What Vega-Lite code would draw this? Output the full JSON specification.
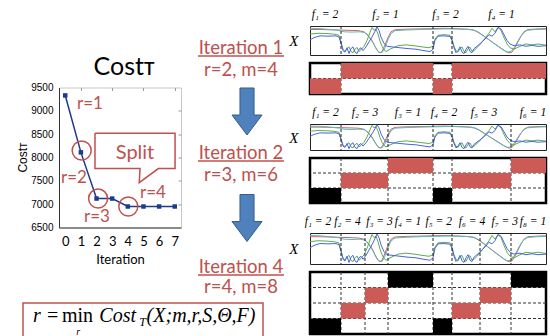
{
"$schema":"https://vega.github.io/schema/vega-lite/v6.json",
"background":"white",
"padding":{"left":17,"top":9,"right":0,"bottom":0},
"config":{"view":{"stroke":null},"axis":{"grid":false}},
"datasets":{
 "cost":[{"iteration":0,"cost":9330},{"iteration":1,"cost":8110},{"iteration":2,"cost":7120},{"iteration":3,"cost":7120},{"iteration":4,"cost":6950},{"iteration":5,"cost":6950},{"iteration":6,"cost":6950},{"iteration":7,"cost":6950}],
 "circles":[{"iteration":1.05,"cost":8150},{"iteration":2.1,"cost":7120},{"iteration":4.03,"cost":6950}],
 "rlabels":[{"iteration":1.58,"cost":9140,"label":"r=1"},{"iteration":0.56,"cost":7555,"label":"r=2"},{"iteration":2.03,"cost":6717,"label":"r=3"},{"iteration":5.61,"cost":7232,"label":"r=4"}],
 "callout":[{"k":1,"iteration":1.9,"cost":8519},{"k":2,"iteration":7.02,"cost":8519},{"k":3,"iteration":7.02,"cost":7762},{"k":4,"iteration":5.95,"cost":7762},{"k":5,"iteration":4.73,"cost":7461},{"k":6,"iteration":4.78,"cost":7762},{"k":7,"iteration":1.9,"cost":7762},{"k":8,"iteration":1.9,"cost":8519}],
 "split":[{"iteration":4.46,"cost":8090,"label":"Split"}],
 "midtext":[{"label":"Iteration 1","pos":0.1237},{"label":"r=2, m=4","pos":0.1993},{"label":"Iteration 2","pos":0.4845},{"label":"r=3, m=6","pos":0.5601},{"label":"Iteration 4","pos":0.8763},{"label":"r=4, m=8","pos":0.945}],
 "underlines":[{"pos":0.1512},{"pos":0.512},{"pos":0.9038}],
 "arrows":[{"ax":0.57,"pos":0.3419},{"ax":0.57,"pos":0.7079}],
 "fbox":[{"k":1,"bx":0,"by":0},{"k":2,"bx":0,"by":1},{"k":3,"bx":1,"by":1},{"k":4,"bx":1,"by":0}],
 "formula":[{"piece":"r =","px":0.042,"py":0.63,"role":"main"},{"piece":"min","px":0.1625,"py":0.63,"role":"upright"},{"piece":"Cost","px":0.318,"py":0.63,"role":"main"},{"piece":"(X;m,r,S,Θ,F)","px":0.515,"py":0.63,"role":"main"},{"piece":"T","px":0.484,"py":0.46,"role":"sub"},{"piece":"r","px":0.222,"py":0.19,"role":"subr"}],
 "segs":[
  {"it":1,"start":0,"end":31,"lt":15,"label":"f₁ = 2","theta":"θ₂","status":"changed"},
  {"it":1,"start":31,"end":123,"lt":75.5,"label":"f₂ = 1","theta":"θ₁","status":"changed"},
  {"it":1,"start":123,"end":142,"lt":135.5,"label":"f₃ = 2","theta":"θ₂","status":"changed"},
  {"it":1,"start":142,"end":236,"lt":191.5,"label":"f₄ = 1","theta":"θ₁","status":"changed"},
  {"it":2,"start":0,"end":31,"lt":15.5,"label":"f₁ = 2","theta":"θ₂","status":"kept"},
  {"it":2,"start":31,"end":78,"lt":55,"label":"f₂ = 3","theta":"θ₃","status":"changed"},
  {"it":2,"start":78,"end":123,"lt":98,"label":"f₃ = 1","theta":"θ₁","status":"changed"},
  {"it":2,"start":123,"end":142,"lt":134,"label":"f₄ = 2","theta":"θ₂","status":"kept"},
  {"it":2,"start":142,"end":201,"lt":174,"label":"f₅ = 3","theta":"θ₃","status":"changed"},
  {"it":2,"start":201,"end":236,"lt":223,"label":"f₆ = 1","theta":"θ₁","status":"changed"},
  {"it":4,"start":0,"end":31,"lt":8,"label":"f₁ = 2","theta":"θ₂","status":"kept"},
  {"it":4,"start":31,"end":55,"lt":37.5,"label":"f₂ = 4","theta":"θ₄","status":"changed"},
  {"it":4,"start":55,"end":78,"lt":69.5,"label":"f₃ = 3","theta":"θ₃","status":"changed"},
  {"it":4,"start":78,"end":123,"lt":98,"label":"f₄ = 1","theta":"θ₁","status":"kept"},
  {"it":4,"start":123,"end":142,"lt":128.7,"label":"f₅ = 2","theta":"θ₂","status":"kept"},
  {"it":4,"start":142,"end":170,"lt":162,"label":"f₆ = 4","theta":"θ₄","status":"changed"},
  {"it":4,"start":170,"end":201,"lt":194.7,"label":"f₇ = 3","theta":"θ₃","status":"changed"},
  {"it":4,"start":201,"end":236,"lt":223,"label":"f₈ = 1","theta":"θ₁","status":"kept"}
 ],
 "thetarows":[{"it":1,"theta":"θ₂"},{"it":2,"theta":"θ₃"},{"it":2,"theta":"θ₂"},{"it":4,"theta":"θ₃"},{"it":4,"theta":"θ₄"},{"it":4,"theta":"θ₂"}],
 "signal":[
  {"ch":"c1","t":0,"v":0.88},{"ch":"c1","t":10,"v":0.88},{"ch":"c1","t":20,"v":0.87},{"ch":"c1","t":30,"v":0.86},{"ch":"c1","t":40,"v":0.85},{"ch":"c1","t":48,"v":0.84},{"ch":"c1","t":54,"v":0.8},{"ch":"c1","t":58,"v":0.68},{"ch":"c1","t":62,"v":0.5},{"ch":"c1","t":65,"v":0.3},{"ch":"c1","t":68,"v":0.12},{"ch":"c1","t":70,"v":0.07},{"ch":"c1","t":72,"v":0.12},{"ch":"c1","t":75,"v":0.35},{"ch":"c1","t":78,"v":0.6},{"ch":"c1","t":81,"v":0.8},{"ch":"c1","t":85,"v":0.87},{"ch":"c1","t":95,"v":0.89},{"ch":"c1","t":110,"v":0.9},{"ch":"c1","t":123,"v":0.91},{"ch":"c1","t":135,"v":0.92},{"ch":"c1","t":142,"v":0.91},{"ch":"c1","t":150,"v":0.9},{"ch":"c1","t":160,"v":0.88},{"ch":"c1","t":165,"v":0.84},{"ch":"c1","t":170,"v":0.74},{"ch":"c1","t":175,"v":0.62},{"ch":"c1","t":180,"v":0.5},{"ch":"c1","t":185,"v":0.38},{"ch":"c1","t":190,"v":0.26},{"ch":"c1","t":195,"v":0.14},{"ch":"c1","t":199,"v":0.07},{"ch":"c1","t":202,"v":0.1},{"ch":"c1","t":205,"v":0.25},{"ch":"c1","t":208,"v":0.45},{"ch":"c1","t":211,"v":0.65},{"ch":"c1","t":214,"v":0.8},{"ch":"c1","t":218,"v":0.88},{"ch":"c1","t":228,"v":0.9},{"ch":"c1","t":236,"v":0.91},
  {"ch":"c2","t":0,"v":0.92},{"ch":"c2","t":10,"v":0.91},{"ch":"c2","t":20,"v":0.88},{"ch":"c2","t":30,"v":0.84},{"ch":"c2","t":34,"v":0.8},{"ch":"c2","t":42,"v":0.79},{"ch":"c2","t":50,"v":0.8},{"ch":"c2","t":55,"v":0.77},{"ch":"c2","t":59,"v":0.62},{"ch":"c2","t":63,"v":0.42},{"ch":"c2","t":66,"v":0.22},{"ch":"c2","t":69,"v":0.1},{"ch":"c2","t":72,"v":0.08},{"ch":"c2","t":75,"v":0.25},{"ch":"c2","t":78,"v":0.52},{"ch":"c2","t":81,"v":0.74},{"ch":"c2","t":85,"v":0.84},{"ch":"c2","t":95,"v":0.86},{"ch":"c2","t":110,"v":0.88},{"ch":"c2","t":123,"v":0.89},{"ch":"c2","t":135,"v":0.9},{"ch":"c2","t":142,"v":0.9},{"ch":"c2","t":155,"v":0.89},{"ch":"c2","t":163,"v":0.87},{"ch":"c2","t":168,"v":0.8},{"ch":"c2","t":173,"v":0.68},{"ch":"c2","t":178,"v":0.55},{"ch":"c2","t":183,"v":0.42},{"ch":"c2","t":188,"v":0.3},{"ch":"c2","t":193,"v":0.18},{"ch":"c2","t":197,"v":0.1},{"ch":"c2","t":201,"v":0.12},{"ch":"c2","t":205,"v":0.3},{"ch":"c2","t":209,"v":0.55},{"ch":"c2","t":213,"v":0.75},{"ch":"c2","t":217,"v":0.85},{"ch":"c2","t":226,"v":0.88},{"ch":"c2","t":236,"v":0.89},
  {"ch":"c3","t":0,"v":0.72},{"ch":"c3","t":8,"v":0.75},{"ch":"c3","t":16,"v":0.74},{"ch":"c3","t":24,"v":0.72},{"ch":"c3","t":29,"v":0.68},{"ch":"c3","t":31,"v":0.45},{"ch":"c3","t":33,"v":0.2},{"ch":"c3","t":35,"v":0.12},{"ch":"c3","t":37,"v":0.22},{"ch":"c3","t":39,"v":0.28},{"ch":"c3","t":41,"v":0.12},{"ch":"c3","t":43,"v":0.08},{"ch":"c3","t":45,"v":0.2},{"ch":"c3","t":47,"v":0.26},{"ch":"c3","t":49,"v":0.12},{"ch":"c3","t":51,"v":0.18},{"ch":"c3","t":54,"v":0.3},{"ch":"c3","t":57,"v":0.5},{"ch":"c3","t":60,"v":0.78},{"ch":"c3","t":62,"v":0.95},{"ch":"c3","t":64,"v":0.85},{"ch":"c3","t":66,"v":0.9},{"ch":"c3","t":68,"v":0.72},{"ch":"c3","t":70,"v":0.48},{"ch":"c3","t":72,"v":0.3},{"ch":"c3","t":74,"v":0.18},{"ch":"c3","t":76,"v":0.12},{"ch":"c3","t":80,"v":0.2},{"ch":"c3","t":88,"v":0.32},{"ch":"c3","t":96,"v":0.35},{"ch":"c3","t":104,"v":0.32},{"ch":"c3","t":112,"v":0.28},{"ch":"c3","t":119,"v":0.25},{"ch":"c3","t":123,"v":0.3},{"ch":"c3","t":125,"v":0.55},{"ch":"c3","t":128,"v":0.68},{"ch":"c3","t":134,"v":0.7},{"ch":"c3","t":140,"v":0.68},{"ch":"c3","t":142,"v":0.55},{"ch":"c3","t":144,"v":0.3},{"ch":"c3","t":146,"v":0.15},{"ch":"c3","t":148,"v":0.1},{"ch":"c3","t":150,"v":0.22},{"ch":"c3","t":152,"v":0.28},{"ch":"c3","t":154,"v":0.12},{"ch":"c3","t":156,"v":0.08},{"ch":"c3","t":158,"v":0.22},{"ch":"c3","t":160,"v":0.27},{"ch":"c3","t":162,"v":0.12},{"ch":"c3","t":164,"v":0.15},{"ch":"c3","t":167,"v":0.25},{"ch":"c3","t":171,"v":0.4},{"ch":"c3","t":175,"v":0.58},{"ch":"c3","t":179,"v":0.75},{"ch":"c3","t":182,"v":0.92},{"ch":"c3","t":185,"v":0.8},{"ch":"c3","t":188,"v":0.95},{"ch":"c3","t":191,"v":0.85},{"ch":"c3","t":194,"v":0.6},{"ch":"c3","t":197,"v":0.38},{"ch":"c3","t":200,"v":0.25},{"ch":"c3","t":204,"v":0.2},{"ch":"c3","t":210,"v":0.3},{"ch":"c3","t":216,"v":0.38},{"ch":"c3","t":222,"v":0.35},{"ch":"c3","t":228,"v":0.38},{"ch":"c3","t":236,"v":0.34},
  {"ch":"c4","t":0,"v":0.52},{"ch":"c4","t":4,"v":0.6},{"ch":"c4","t":10,"v":0.66},{"ch":"c4","t":18,"v":0.65},{"ch":"c4","t":26,"v":0.66},{"ch":"c4","t":29,"v":0.62},{"ch":"c4","t":31,"v":0.4},{"ch":"c4","t":33,"v":0.15},{"ch":"c4","t":35,"v":0.1},{"ch":"c4","t":37,"v":0.25},{"ch":"c4","t":39,"v":0.05},{"ch":"c4","t":41,"v":0.22},{"ch":"c4","t":43,"v":0.28},{"ch":"c4","t":45,"v":0.1},{"ch":"c4","t":47,"v":0.05},{"ch":"c4","t":49,"v":0.2},{"ch":"c4","t":51,"v":0.25},{"ch":"c4","t":53,"v":0.15},{"ch":"c4","t":56,"v":0.28},{"ch":"c4","t":59,"v":0.45},{"ch":"c4","t":62,"v":0.62},{"ch":"c4","t":65,"v":0.82},{"ch":"c4","t":67,"v":0.97},{"ch":"c4","t":69,"v":0.85},{"ch":"c4","t":71,"v":0.62},{"ch":"c4","t":74,"v":0.4},{"ch":"c4","t":77,"v":0.3},{"ch":"c4","t":82,"v":0.28},{"ch":"c4","t":90,"v":0.25},{"ch":"c4","t":98,"v":0.22},{"ch":"c4","t":106,"v":0.2},{"ch":"c4","t":114,"v":0.15},{"ch":"c4","t":120,"v":0.12},{"ch":"c4","t":123,"v":0.2},{"ch":"c4","t":125,"v":0.5},{"ch":"c4","t":128,"v":0.65},{"ch":"c4","t":134,"v":0.66},{"ch":"c4","t":140,"v":0.64},{"ch":"c4","t":142,"v":0.5},{"ch":"c4","t":144,"v":0.25},{"ch":"c4","t":146,"v":0.08},{"ch":"c4","t":148,"v":0.15},{"ch":"c4","t":150,"v":0.28},{"ch":"c4","t":152,"v":0.1},{"ch":"c4","t":154,"v":0.05},{"ch":"c4","t":156,"v":0.2},{"ch":"c4","t":158,"v":0.3},{"ch":"c4","t":160,"v":0.12},{"ch":"c4","t":162,"v":0.08},{"ch":"c4","t":164,"v":0.22},{"ch":"c4","t":167,"v":0.3},{"ch":"c4","t":171,"v":0.42},{"ch":"c4","t":175,"v":0.55},{"ch":"c4","t":179,"v":0.7},{"ch":"c4","t":182,"v":0.65},{"ch":"c4","t":185,"v":0.75},{"ch":"c4","t":188,"v":0.95},{"ch":"c4","t":191,"v":0.9},{"ch":"c4","t":194,"v":0.7},{"ch":"c4","t":197,"v":0.5},{"ch":"c4","t":200,"v":0.38},{"ch":"c4","t":204,"v":0.32},{"ch":"c4","t":210,"v":0.35},{"ch":"c4","t":216,"v":0.3},{"ch":"c4","t":222,"v":0.33},{"ch":"c4","t":228,"v":0.3},{"ch":"c4","t":236,"v":0.32}
 ]
},
"spacing":3,
"hconcat":[
 {"spacing":-5,"vconcat":[
  {"bounds":"flush","center":true,"spacing":17,"hconcat":[
   {"width":19,"height":140,"data":{"values":[{"label":"Costᴛ"}]},
    "mark":{"type":"text","angle":270,"font":"Liberation Sans","fontSize":12,"baseline":"middle","align":"center","color":"black"},
    "encoding":{"x":{"datum":0,"type":"quantitative","scale":{"domain":[0,1]},"axis":null},"text":{"field":"label"}}},
   {"width":122,"height":140,"view":{"stroke":"#c8c8c8","strokeWidth":1},
    "title":{"text":"Costᴛ","font":"Lato","fontSize":25,"fontWeight":"normal","color":"black","offset":3,"dx":4},
    "resolve":{"axis":{"x":"independent","y":"independent"}},
    "layer":[
     {"data":{"name":"cost"},"mark":{"type":"line","color":"#1e3a8a","strokeWidth":1.5,"point":{"shape":"square","size":20,"filled":true,"color":"#1e3a8a","opacity":1}},
      "encoding":{
       "x":{"field":"iteration","type":"quantitative","scale":{"domain":[-0.4,7.4],"nice":false,"zero":false},"axis":{"orient":"bottom","values":[0,1,2,3,4,5,6,7],"title":"Iteration","titleFont":"Lato","titleFontSize":13,"titleFontWeight":"normal","titleColor":"black","titlePadding":5,"labelFont":"Lato","labelFontSize":13,"labelColor":"black","labelPadding":8,"ticks":false,"domainColor":"#333","labelFlush":false}},
       "y":{"field":"cost","type":"quantitative","scale":{"domain":[6500,9500],"nice":false,"zero":false},"axis":{"orient":"left","values":[6500,7000,7500,8000,8500,9000,9500],"format":"d","title":null,"labelFont":"Liberation Sans","labelFontSize":10,"labelColor":"black","labelPadding":6,"ticks":false,"domainColor":"#333","labelFlush":false}}}},
     {"data":{"name":"circles"},"mark":{"type":"point","shape":"circle","size":361,"filled":false,"stroke":"#c0504d","strokeWidth":1.5,"opacity":1},
      "encoding":{"x":{"field":"iteration","type":"quantitative","axis":{"orient":"top","values":[1,3,5,7],"labels":false,"domain":false,"title":null,"tickSize":-3,"tickColor":"#999"}},"y":{"field":"cost","type":"quantitative","axis":{"orient":"right","values":[7000,7500,8000,8500,9000],"labels":false,"domain":false,"title":null,"tickSize":-3,"tickColor":"#999"}}}},
     {"data":{"name":"rlabels"},"mark":{"type":"text","font":"Lato","fontSize":17,"color":"#c0504d"},"encoding":{"x":{"field":"iteration","type":"quantitative","axis":null},"y":{"field":"cost","type":"quantitative","axis":null},"text":{"field":"label"}}},
     {"data":{"name":"callout"},"mark":{"type":"line","color":"#c0504d","strokeWidth":1.5,"strokeJoin":"miter"},"encoding":{"x":{"field":"iteration","type":"quantitative","axis":null},"y":{"field":"cost","type":"quantitative","axis":null},"order":{"field":"k"}}},
     {"data":{"name":"split"},"mark":{"type":"text","font":"Lato","fontSize":20,"color":"#c0504d"},"encoding":{"x":{"field":"iteration","type":"quantitative","axis":null},"y":{"field":"cost","type":"quantitative","axis":null},"text":{"field":"label"}}}
    ]},
   {"width":86,"height":291,
    "layer":[
     {"data":{"name":"arrows"},"mark":{"type":"point","shape":"M-0.3,-1L0.3,-1L0.3,0.15L0.64,0.15L0,1L-0.64,0.15L-0.3,0.15Z","size":2209,"filled":true,"fill":"#4f81bd","stroke":"#385d8a","strokeWidth":1,"opacity":1},
      "encoding":{"x":{"field":"ax","type":"quantitative","scale":{"domain":[0,1],"nice":false,"zero":false},"axis":null},"y":{"field":"pos","type":"quantitative","scale":{"domain":[0,1],"reverse":true,"nice":false,"zero":false},"axis":null}}},
     {"data":{"name":"midtext"},"mark":{"type":"text","font":"Lato","fontSize":18.5,"color":"#c0504d"},"encoding":{"x":{"datum":0.5,"type":"quantitative","axis":null},"y":{"field":"pos","type":"quantitative","axis":null},"text":{"field":"label"}}},
     {"data":{"name":"underlines"},"mark":{"type":"rule","color":"#c0504d","strokeWidth":1.5},"encoding":{"x":{"datum":0,"type":"quantitative","axis":null},"x2":{"datum":1},"y":{"field":"pos","type":"quantitative","axis":null}}}
    ]}
  ]},
  {"width":240,"height":36,
   "layer":[
    {"data":{"name":"fbox"},"mark":{"type":"line","color":"#c0504d","strokeWidth":1.5,"strokeJoin":"miter"},"encoding":{"x":{"field":"bx","type":"quantitative","scale":{"domain":[0,1],"nice":false,"zero":false},"axis":null},"y":{"field":"by","type":"quantitative","scale":{"domain":[0,1],"nice":false,"zero":false},"axis":null},"order":{"field":"k"}}},
    {"data":{"name":"formula"},"transform":[{"filter":"datum.role == 'main'"}],"mark":{"type":"text","font":"Liberation Serif","fontStyle":"italic","fontSize":20,"align":"left","color":"black"},"encoding":{"x":{"field":"px","type":"quantitative","axis":null},"y":{"field":"py","type":"quantitative","axis":null},"text":{"field":"piece"}}},
    {"data":{"name":"formula"},"transform":[{"filter":"datum.role == 'upright'"}],"mark":{"type":"text","font":"Liberation Serif","fontSize":20,"align":"left","color":"black"},"encoding":{"x":{"field":"px","type":"quantitative","axis":null},"y":{"field":"py","type":"quantitative","axis":null},"text":{"field":"piece"}}},
    {"data":{"name":"formula"},"transform":[{"filter":"datum.role == 'sub'"}],"mark":{"type":"text","font":"Liberation Serif","fontStyle":"italic","fontSize":12,"align":"left","color":"black"},"encoding":{"x":{"field":"px","type":"quantitative","axis":null},"y":{"field":"py","type":"quantitative","axis":null},"text":{"field":"piece"}}},
    {"data":{"name":"formula"},"transform":[{"filter":"datum.role == 'subr'"}],"mark":{"type":"text","font":"Liberation Serif","fontStyle":"italic","fontSize":10,"align":"left","color":"black"},"encoding":{"x":{"field":"px","type":"quantitative","axis":null},"y":{"field":"py","type":"quantitative","axis":null},"text":{"field":"piece"}}}
   ]}
 ]},
 {"spacing":11,"vconcat":[
  {"bounds":"flush","spacing":8,"vconcat":[
   {"width":236,"height":6,"data":{"name":"segs"},"transform":[{"filter":"datum.it == 1"}],"mark":{"type":"text","font":"Liberation Serif","fontStyle":"italic","fontSize":11.5,"color":"black"},"encoding":{"x":{"field":"lt","type":"quantitative","scale":{"domain":[0,236],"nice":false,"zero":false},"axis":null},"text":{"field":"label"}}},
   {"width":236,"height":29,"view":{"stroke":"#222","strokeWidth":1},"layer":[
    {"data":{"name":"signal"},"mark":{"type":"line","strokeWidth":1,"clip":true},"encoding":{"x":{"field":"t","type":"quantitative","scale":{"domain":[0,236],"nice":false,"zero":false},"axis":null},"y":{"field":"v","type":"quantitative","scale":{"domain":[0,1],"nice":false,"zero":false},"axis":{"title":"X","titleAngle":0,"titleAlign":"right","titleBaseline":"middle","titleFont":"Liberation Serif","titleFontStyle":"italic","titleFontSize":15,"titleFontWeight":"normal","titleColor":"black","titlePadding":12,"labels":false,"ticks":false,"domain":false,"grid":false}},"color":{"field":"ch","type":"nominal","scale":{"domain":["c1","c2","c3","c4"],"range":["#e25b5b","#4fbfbf","#5aad4e","#4a63e0"]},"legend":null}}},
    {"data":{"name":"segs"},"transform":[{"filter":"datum.it == 1 && datum.start > 0"}],"mark":{"type":"rule","color":"#222","strokeWidth":1,"strokeDash":[3,2]},"encoding":{"x":{"field":"start","type":"quantitative","axis":null}}}
   ]},
   {"width":236,"height":31,"view":{"stroke":"black","strokeWidth":2.5},"layer":[
    {"data":{"name":"thetarows"},"transform":[{"filter":"datum.it == 1"}],"mark":{"type":"rule","color":"#333","strokeWidth":1,"strokeDash":[3,2]},"encoding":{"y":{"field":"theta","type":"nominal","bandPosition":0,"scale":{"type":"band","domain":["θ₁","θ₂"],"paddingInner":0,"paddingOuter":0},"axis":null}}},
    {"data":{"name":"segs"},"transform":[{"filter":"datum.it == 1 && datum.start > 0"}],"mark":{"type":"rule","color":"#333","strokeWidth":1,"strokeDash":[3,2]},"encoding":{"x":{"field":"start","type":"quantitative","scale":{"domain":[0,236],"nice":false,"zero":false},"axis":null}}},
    {"data":{"name":"segs"},"transform":[{"filter":"datum.it == 1 && datum.status == 'changed'"}],"mark":{"type":"rect","color":"#cc5a56"},"encoding":{"x":{"field":"start","type":"quantitative","axis":null},"x2":{"field":"end"},"y":{"field":"theta","type":"nominal","scale":{"type":"band","domain":["θ₁","θ₂"],"paddingInner":0,"paddingOuter":0},"axis":{"title":null,"ticks":false,"domain":false,"labelFont":"Liberation Serif","labelFontStyle":"italic","labelFontSize":13,"labelColor":"black","labelPadding":12}}}},
    {"data":{"name":"segs"},"transform":[{"filter":"datum.it == 1 && datum.status == 'kept'"}],"mark":{"type":"rect","color":"#000000"},"encoding":{"x":{"field":"start","type":"quantitative","axis":null},"x2":{"field":"end"},"y":{"field":"theta","type":"nominal","axis":null}}}
   ]}
  ]},
  {"bounds":"flush","spacing":8,"vconcat":[
   {"width":236,"height":6,"data":{"name":"segs"},"transform":[{"filter":"datum.it == 2"}],"mark":{"type":"text","font":"Liberation Serif","fontStyle":"italic","fontSize":11.5,"color":"black"},"encoding":{"x":{"field":"lt","type":"quantitative","scale":{"domain":[0,236],"nice":false,"zero":false},"axis":null},"text":{"field":"label"}}},
   {"width":236,"height":26,"view":{"stroke":"#222","strokeWidth":1},"layer":[
    {"data":{"name":"signal"},"mark":{"type":"line","strokeWidth":1,"clip":true},"encoding":{"x":{"field":"t","type":"quantitative","scale":{"domain":[0,236],"nice":false,"zero":false},"axis":null},"y":{"field":"v","type":"quantitative","scale":{"domain":[0,1],"nice":false,"zero":false},"axis":{"title":"X","titleAngle":0,"titleAlign":"right","titleBaseline":"middle","titleFont":"Liberation Serif","titleFontStyle":"italic","titleFontSize":15,"titleFontWeight":"normal","titleColor":"black","titlePadding":12,"labels":false,"ticks":false,"domain":false,"grid":false}},"color":{"field":"ch","type":"nominal","scale":{"domain":["c1","c2","c3","c4"],"range":["#e25b5b","#4fbfbf","#5aad4e","#4a63e0"]},"legend":null}}},
    {"data":{"name":"segs"},"transform":[{"filter":"datum.it == 2 && datum.start > 0"}],"mark":{"type":"rule","color":"#222","strokeWidth":1,"strokeDash":[3,2]},"encoding":{"x":{"field":"start","type":"quantitative","axis":null}}}
   ]},
   {"width":236,"height":45,"view":{"stroke":"black","strokeWidth":2.5},"layer":[
    {"data":{"name":"thetarows"},"transform":[{"filter":"datum.it == 2"}],"mark":{"type":"rule","color":"#333","strokeWidth":1,"strokeDash":[3,2]},"encoding":{"y":{"field":"theta","type":"nominal","bandPosition":0,"scale":{"type":"band","domain":["θ₁","θ₃","θ₂"],"paddingInner":0,"paddingOuter":0},"axis":null}}},
    {"data":{"name":"segs"},"transform":[{"filter":"datum.it == 2 && datum.start > 0"}],"mark":{"type":"rule","color":"#333","strokeWidth":1,"strokeDash":[3,2]},"encoding":{"x":{"field":"start","type":"quantitative","scale":{"domain":[0,236],"nice":false,"zero":false},"axis":null}}},
    {"data":{"name":"segs"},"transform":[{"filter":"datum.it == 2 && datum.status == 'changed'"}],"mark":{"type":"rect","color":"#cc5a56"},"encoding":{"x":{"field":"start","type":"quantitative","axis":null},"x2":{"field":"end"},"y":{"field":"theta","type":"nominal","scale":{"type":"band","domain":["θ₁","θ₃","θ₂"],"paddingInner":0,"paddingOuter":0},"axis":{"title":null,"ticks":false,"domain":false,"labelFont":"Liberation Serif","labelFontStyle":"italic","labelFontSize":13,"labelColor":"black","labelPadding":12}}}},
    {"data":{"name":"segs"},"transform":[{"filter":"datum.it == 2 && datum.status == 'kept'"}],"mark":{"type":"rect","color":"#000000"},"encoding":{"x":{"field":"start","type":"quantitative","axis":null},"x2":{"field":"end"},"y":{"field":"theta","type":"nominal","axis":null}}}
   ]}
  ]},
  {"bounds":"flush","spacing":8,"vconcat":[
   {"width":236,"height":6,"data":{"name":"segs"},"transform":[{"filter":"datum.it == 4"}],"mark":{"type":"text","font":"Liberation Serif","fontStyle":"italic","fontSize":11.5,"color":"black"},"encoding":{"x":{"field":"lt","type":"quantitative","scale":{"domain":[0,236],"nice":false,"zero":false},"axis":null},"text":{"field":"label"}}},
   {"width":236,"height":31,"view":{"stroke":"#222","strokeWidth":1},"layer":[
    {"data":{"name":"signal"},"mark":{"type":"line","strokeWidth":1,"clip":true},"encoding":{"x":{"field":"t","type":"quantitative","scale":{"domain":[0,236],"nice":false,"zero":false},"axis":null},"y":{"field":"v","type":"quantitative","scale":{"domain":[0,1],"nice":false,"zero":false},"axis":{"title":"X","titleAngle":0,"titleAlign":"right","titleBaseline":"middle","titleFont":"Liberation Serif","titleFontStyle":"italic","titleFontSize":15,"titleFontWeight":"normal","titleColor":"black","titlePadding":12,"labels":false,"ticks":false,"domain":false,"grid":false}},"color":{"field":"ch","type":"nominal","scale":{"domain":["c1","c2","c3","c4"],"range":["#e25b5b","#4fbfbf","#5aad4e","#4a63e0"]},"legend":null}}},
    {"data":{"name":"segs"},"transform":[{"filter":"datum.it == 4 && datum.start > 0"}],"mark":{"type":"rule","color":"#222","strokeWidth":1,"strokeDash":[3,2]},"encoding":{"x":{"field":"start","type":"quantitative","axis":null}}}
   ]},
   {"width":236,"height":62,"view":{"stroke":"black","strokeWidth":2.5},"layer":[
    {"data":{"name":"thetarows"},"transform":[{"filter":"datum.it == 4"}],"mark":{"type":"rule","color":"#333","strokeWidth":1,"strokeDash":[3,2]},"encoding":{"y":{"field":"theta","type":"nominal","bandPosition":0,"scale":{"type":"band","domain":["θ₁","θ₃","θ₄","θ₂"],"paddingInner":0,"paddingOuter":0},"axis":null}}},
    {"data":{"name":"segs"},"transform":[{"filter":"datum.it == 4 && datum.start > 0"}],"mark":{"type":"rule","color":"#333","strokeWidth":1,"strokeDash":[3,2]},"encoding":{"x":{"field":"start","type":"quantitative","scale":{"domain":[0,236],"nice":false,"zero":false},"axis":null}}},
    {"data":{"name":"segs"},"transform":[{"filter":"datum.it == 4 && datum.status == 'changed'"}],"mark":{"type":"rect","color":"#cc5a56"},"encoding":{"x":{"field":"start","type":"quantitative","axis":null},"x2":{"field":"end"},"y":{"field":"theta","type":"nominal","scale":{"type":"band","domain":["θ₁","θ₃","θ₄","θ₂"],"paddingInner":0,"paddingOuter":0},"axis":{"title":null,"ticks":false,"domain":false,"labelFont":"Liberation Serif","labelFontStyle":"italic","labelFontSize":13,"labelColor":"black","labelPadding":12}}}},
    {"data":{"name":"segs"},"transform":[{"filter":"datum.it == 4 && datum.status == 'kept'"}],"mark":{"type":"rect","color":"#000000"},"encoding":{"x":{"field":"start","type":"quantitative","axis":null},"x2":{"field":"end"},"y":{"field":"theta","type":"nominal","axis":null}}}
   ]}
  ]}
 ]}
]
}
